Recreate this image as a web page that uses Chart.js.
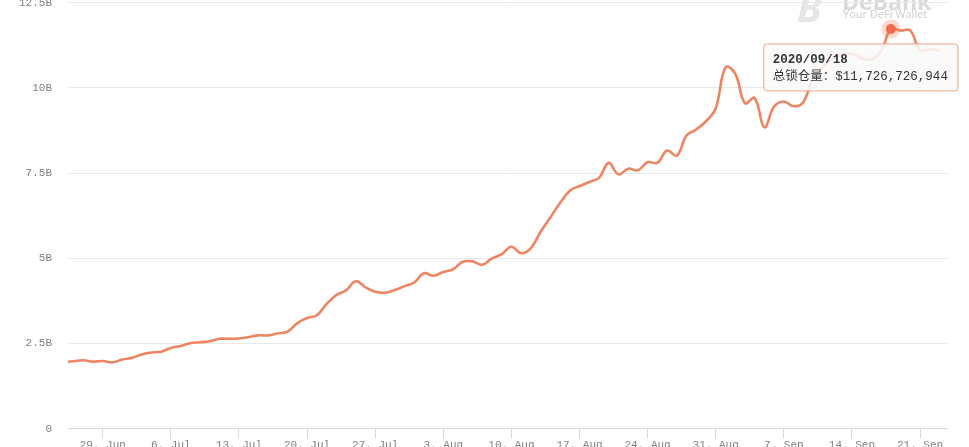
<!DOCTYPE html>
<html><head><meta charset="utf-8">
<script src="https://cdn.jsdelivr.net/npm/chart.js@4.4.1/dist/chart.umd.min.js"></script>
<style>
html,body{margin:0;padding:0;background:#fff;overflow:hidden;width:969px;height:447px;}
#wrap{position:absolute;left:0;top:-4px;width:969px;height:456px;}
</style></head><body>
<div id="wrap"><canvas id="c"></canvas></div>
<script>
// first data point: 2020-06-25, one value per day (billions of USD)
const startDate = [2020, 5, 25];
const tvlBillions = [
  1.96, 1.98, 2.01, 1.97, 1.99, 1.95, 2.03, 2.08, 2.18, 2.24,
  2.26, 2.37, 2.43, 2.51, 2.54, 2.57, 2.64, 2.64, 2.65, 2.69,
  2.74, 2.74, 2.80, 2.85, 3.10, 3.25, 3.33, 3.66, 3.92, 4.06,
  4.33, 4.15, 4.02, 3.99, 4.07, 4.18, 4.29, 4.56, 4.49, 4.60,
  4.68, 4.90, 4.91, 4.81, 5.00, 5.12, 5.34, 5.15, 5.30, 5.78,
  6.20, 6.62, 6.98, 7.12, 7.24, 7.36, 7.80, 7.46, 7.63, 7.58,
  7.82, 7.80, 8.16, 8.01, 8.60, 8.78, 9.02, 9.40, 10.60, 10.42,
  9.55, 9.70, 8.84, 9.45, 9.60, 9.46, 9.58, 10.30, 10.62, 10.84,
  10.98, 11.00, 10.87, 10.84, 11.07, 11.726726944, 11.68, 11.68, 11.10, 11.14,
  11.10
];
const xTickIndex = [4, 11, 18, 25, 32, 39, 46, 53, 60, 67, 74, 81, 88];
const xTickLabels = ['29. Jun', '6. Jul', '13. Jul', '20. Jul', '27. Jul', '3. Aug', '10. Aug',
                     '17. Aug', '24. Aug', '31. Aug', '7. Sep', '14. Sep', '21. Sep'];
const yTickValues = [0, 2.5, 5, 7.5, 10, 12.5];
const yTickLabels = ['0', '2.5B', '5B', '7.5B', '10B', '12.5B'];
const activeIndex = 85;
const seriesName = '总锁仓量';

const MONO = '"Liberation Mono", "Noto Sans CJK SC", monospace';

function dateLabel(i) {
  const d = new Date(startDate[0], startDate[1], startDate[2] + i);
  const p = n => String(n).padStart(2, '0');
  return d.getFullYear() + '/' + p(d.getMonth() + 1) + '/' + p(d.getDate());
}

Chart.Tooltip.positioners.belowLeft = function (items) {
  if (!items.length) return false;
  const el = items[0].element;
  return { x: el.x - 124, y: el.y + 15 };
};

const watermark = {
  id: 'watermark',
  beforeDraw(chart) {
    const ctx = chart.ctx;
    ctx.save();
    ctx.textBaseline = 'alphabetic';
    ctx.fillStyle = '#e6e6e6';
    ctx.font = 'italic bold 40px "Open Sans"';
    ctx.fillText('B', 797, 26);
    ctx.fillStyle = '#d9d9d9';
    ctx.font = 'bold 23px "Open Sans"';
    ctx.fillText('DeBank', 842, 14);
    ctx.fillStyle = '#cdcdcd';
    ctx.font = '11px "Open Sans"';
    ctx.fillText('Your DeFi Wallet', 843, 22);
    ctx.restore();
  }
};

const chart = new Chart(document.getElementById('c'), {
  type: 'line',
  data: {
    datasets: [{
      label: seriesName,
      data: tvlBillions.map((v, i) => ({ x: i, y: v })),
      borderColor: '#ee8562',
      borderWidth: 2.6,
      tension: 0.4,
      fill: false,
      pointRadius: 0,
      pointHoverRadius: 5,
      pointHoverBackgroundColor: '#f26b48',
      pointHoverBorderColor: 'rgba(242,107,72,0.25)',
      pointHoverBorderWidth: 9
    }]
  },
  plugins: [watermark],
  options: {
    responsive: true,
    maintainAspectRatio: false,
    animation: false,
    events: [],
    layout: { padding: { left: 19, right: 22, top: 0, bottom: 0 } },
    plugins: {
      legend: { display: false },
      tooltip: {
        enabled: true,
        position: 'belowLeft',
        xAlign: 'left',
        yAlign: 'top',
        caretSize: 0,
        caretPadding: 0,
        cornerRadius: 3,
        backgroundColor: 'rgba(249,249,249,0.86)',
        borderColor: '#f0a58c',
        borderWidth: 1,
        displayColors: false,
        titleColor: '#333333',
        bodyColor: '#333333',
        titleFont: { family: MONO, size: 12.5, weight: 'bold' },
        bodyFont: { family: MONO, size: 12.5 },
        titleMarginBottom: 2,
        padding: { top: 8, bottom: 7, left: 9, right: 10 },
        callbacks: {
          title: items => dateLabel(items[0].parsed.x),
          label: item => seriesName + '：$' + Math.round(item.parsed.y * 1e9).toLocaleString('en-US')
        }
      }
    },
    scales: {
      x: {
        type: 'linear',
        min: 0.43,
        max: 90.77,
        afterBuildTicks: s => { s.ticks = xTickIndex.map(v => ({ value: v })); },
        ticks: {
          autoSkip: false,
          maxRotation: 0,
          padding: 0,
          color: '#808080',
          font: { family: MONO, size: 11 },
          callback: (v, i) => xTickLabels[i]
        },
        grid: { drawOnChartArea: false, drawTicks: true, tickLength: 10, color: '#dadada' },
        border: { display: true, color: '#dadada' }
      },
      y: {
        min: 0,
        max: 12.5,
        afterBuildTicks: s => { s.ticks = yTickValues.map(v => ({ value: v })); },
        ticks: {
          padding: 0,
          color: '#808080',
          font: { family: MONO, size: 11 },
          callback: (v, i) => yTickLabels[i]
        },
        grid: { drawTicks: true, tickLength: 16, tickColor: 'rgba(0,0,0,0)', color: '#e8e8e8' },
        border: { display: false }
      }
    }
  }
});

const act = [{ datasetIndex: 0, index: activeIndex }];
chart.setActiveElements(act);
chart.tooltip.setActiveElements(act, { x: 0, y: 0 });
chart.update();
</script>
</body></html>
